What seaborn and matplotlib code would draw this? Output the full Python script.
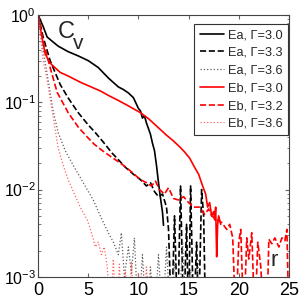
import matplotlib
matplotlib.use('Agg')
import pandas as pd
import seaborn as sns
import matplotlib.pyplot as plt

# C_v(r); 0.0003 marks points that fall below the axis
ea30_x = [0, 0.5, 0.9, 1.5, 2.0, 3.0, 4.0, 5.0, 6.0, 7.0, 8.0, 8.5, 9.0, 9.5, 10.0, 10.2, 10.4, 10.6,
          10.8, 11.0, 11.2, 11.4, 11.6, 11.8, 12.0, 12.2, 12.4, 12.5]
ea30_y = [1.0, 0.74, 0.56, 0.49, 0.44, 0.38, 0.34, 0.30, 0.25, 0.19, 0.15, 0.14, 0.128, 0.113, 0.085, 0.080,
          0.066, 0.07, 0.058, 0.05, 0.043, 0.034, 0.028, 0.019, 0.012, 0.008, 0.0055, 0.0039]

ea33_x = [0, 0.5, 1.2, 2.2, 3.0, 4.0, 5.0, 5.7, 6.5, 7.4, 8.0, 8.7, 9.5, 10.2, 10.8, 11.2, 11.6, 12.0, 12.4,
          12.8, 13.0, 13.3, 13.6, 13.9, 14.2, 14.5, 14.8, 15.0, 15.2, 15.5, 15.8, 16.0, 16.3, 16.5, 16.7]
ea33_y = [1.0, 0.56, 0.30, 0.16, 0.112, 0.076, 0.055, 0.045, 0.035, 0.026, 0.022, 0.018, 0.015, 0.013, 0.011,
          0.012, 0.0095, 0.0083, 0.0089, 0.0063, 0.0035, 0.0003, 0.005, 0.0003, 0.011, 0.0003, 0.004, 0.0003,
          0.011, 0.0003, 0.0025, 0.0003, 0.01, 0.005, 0.0003]

ea36_x = [0, 0.5, 1.0, 1.5, 2.0, 2.7, 3.5, 4.5, 5.5, 6.2, 7.0, 7.5, 8.0, 8.3, 8.6, 9.0, 9.3, 9.6, 10.0, 10.4,
          10.8, 11.2, 11.6, 12.0, 12.4, 12.8, 13.2, 13.6, 14.0, 14.4, 14.8, 15.2, 15.6, 16.0]
ea36_y = [1.0, 0.4, 0.18, 0.08, 0.045, 0.028, 0.019, 0.012, 0.0076, 0.005, 0.0032, 0.0025, 0.0018, 0.0032,
          0.001, 0.0022, 0.0011, 0.0028, 0.0003, 0.0018, 0.0003, 0.0013, 0.0003, 0.0018, 0.0003, 0.0022, 0.0003,
          0.0015, 0.0003, 0.0025, 0.0003, 0.0012, 0.0003, 0.0016]

eb30_x = [0, 0.3, 0.7, 1.2, 2.2, 3.0, 4.2, 5.0, 6.2, 7.0, 8.0, 9.0, 10.2, 11.0, 12.0, 12.8, 13.5, 14.1, 14.6,
          15.1, 15.6, 16.0, 16.4, 16.7, 16.9, 17.1, 17.3, 17.5, 17.6, 17.7, 17.8, 17.9, 18.0, 18.2]
eb30_y = [1.0, 0.63, 0.36, 0.28, 0.22, 0.20, 0.17, 0.155, 0.135, 0.12, 0.105, 0.091, 0.076, 0.065, 0.051,
          0.042, 0.036, 0.031, 0.027, 0.023, 0.018, 0.015, 0.011, 0.0089, 0.0063, 0.0071, 0.005, 0.0056,
          0.0045, 0.0063, 0.0017, 0.004, 0.005, 0.004]

eb32_x = [0, 0.5, 1.2, 1.9, 3.0, 4.0, 4.9, 5.6, 6.4, 7.0, 7.7, 8.5, 9.3, 10.2, 10.8, 11.3, 11.7, 12.1, 12.6,
          13.0, 13.5, 14.0, 14.5, 15.0, 15.5, 16.1, 16.6, 17.0, 17.3, 17.8, 18.3, 18.8, 19.1, 19.4, 19.7, 20.0,
          20.2, 20.5, 20.8, 21.0, 21.3, 21.6, 21.9, 22.2, 22.5, 22.8, 23.0, 23.3, 23.6, 24.0, 24.3, 24.6, 24.8,
          25.0]
eb32_y = [1.0, 0.5, 0.25, 0.13, 0.076, 0.052, 0.04, 0.033, 0.028, 0.025, 0.022, 0.019, 0.016, 0.013, 0.012,
          0.011, 0.0125, 0.01, 0.0089, 0.0105, 0.0079, 0.0076, 0.0083, 0.0071, 0.0063, 0.0063, 0.0052, 0.006,
          0.005, 0.0045, 0.0042, 0.0035, 0.004, 0.0028, 0.0003, 0.0025, 0.0035, 0.0003, 0.0028, 0.0016, 0.0032,
          0.0003, 0.0025, 0.0013, 0.0003, 0.0003, 0.0027, 0.0024, 0.0028, 0.0022, 0.0028, 0.0026, 0.0035,
          0.0003]

eb36_x = [0, 0.5, 0.9, 1.4, 2.0, 2.5, 3.0, 3.6, 4.2, 4.9, 5.4, 5.7, 6.0, 6.3, 6.6, 6.9, 7.2, 7.5, 7.8, 8.1,
          8.4, 8.7, 9.0, 9.3, 9.6, 10.0, 10.4, 10.8, 11.2]
eb36_y = [1.0, 0.3, 0.18, 0.08, 0.03, 0.019, 0.013, 0.009, 0.0063, 0.0045, 0.003, 0.0022, 0.0025, 0.0018,
          0.0022, 0.0013, 0.0003, 0.0016, 0.0003, 0.0014, 0.0003, 0.0012, 0.0003, 0.0015, 0.0003, 0.0011,
          0.0003, 0.0013, 0.0003]

labels = ['Ea, Γ=3.0', 'Ea, Γ=3.3', 'Ea, Γ=3.6', 'Eb, Γ=3.0', 'Eb, Γ=3.2', 'Eb, Γ=3.6']
xticks = [0, 5, 10, 15, 20, 25]

sns.set_style('ticks')
plt.rcParams['font.family'] = ['Liberation Sans', 'DejaVu Sans']
plt.rcParams['mathtext.fontset'] = 'custom'
plt.rcParams['mathtext.rm'] = 'Liberation Sans'
plt.rcParams['mathtext.default'] = 'regular'

fig = plt.figure(figsize=(3, 3), dpi=100)
ax = fig.add_axes([0.127, 0.077, 0.836, 0.873])

series = [(ea30_x, ea30_y, 'black', '-', 1.2),
          (ea33_x, ea33_y, 'black', '--', 1.2),
          (ea36_x, ea36_y, '#606060', ':', 0.9),
          (eb30_x, eb30_y, 'red', '-', 1.2),
          (eb32_x, eb32_y, 'red', '--', 1.2),
          (eb36_x, eb36_y, '#ff6666', ':', 0.9)]

for (xs, ys, col, ls, lw), lab in zip(series, labels):
    df = pd.DataFrame({'r': xs, 'cv': ys})
    sns.lineplot(data=df, x='r', y='cv', ax=ax, color=col, linestyle=ls, linewidth=lw,
                 label=lab, sort=False, estimator=None)

ax.set_yscale('log')
ax.set_xlim(0, 25)
ax.set_ylim(1e-3, 1)
ax.set_xticks(xticks)
ax.set_xlabel('')
ax.set_ylabel('')
ax.tick_params(which='both', direction='in', top=True, right=True, colors='#666666',
               labelcolor='black')
ax.tick_params(which='major', length=3)
ax.tick_params(which='minor', length=1.8)
ax.tick_params(axis='x', labelsize=13, pad=4)
ax.tick_params(axis='y', labelsize=11.5, pad=1.5)
for s in ax.spines.values():
    s.set_color('#444444')
    s.set_linewidth(0.8)

leg = ax.legend(loc='upper right', bbox_to_anchor=(0.997, 0.966), borderaxespad=0, fontsize=9.2,
                fancybox=False, framealpha=1, edgecolor='#333333', handlelength=1.9,
                handletextpad=0.35, labelspacing=0.45, borderpad=0.4)
leg.get_frame().set_linewidth(0.8)

ax.text(2.0, 0.55, 'C', fontsize=17, va='baseline', zorder=5)
ax.text(3.5, 0.41, 'v', fontsize=15, va='baseline', zorder=5)
ax.text(23.2, 1.35e-3, 'r', fontsize=16, va='baseline', zorder=5)

fig.savefig('out.png', dpi=100)
